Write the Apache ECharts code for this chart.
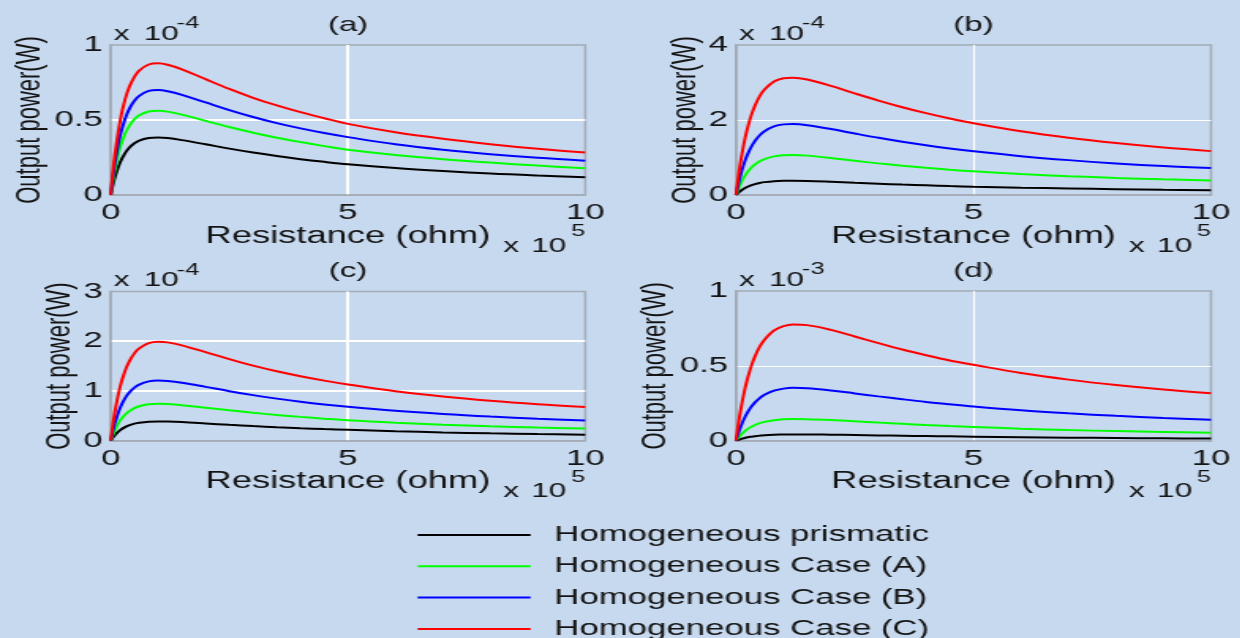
<!DOCTYPE html>
<html><head><meta charset="utf-8">
<script src="https://cdn.jsdelivr.net/npm/echarts@6/dist/echarts.min.js"></script>
<style>
html,body{margin:0;padding:0;background:#c7d9ef;overflow:hidden;width:1240px;height:638px}
#wrap{width:1240px;height:638px;overflow:hidden;position:relative}
#chart{position:absolute;left:0;top:0;height:638px;transform-origin:0 0}
</style></head><body><div id="wrap"><div id="chart"></div></div>
<script>
// Resistance (x 10^5 ohm)
const X_VALUES = [0,0.05,0.1,0.2,0.3,0.4,0.5,0.6,0.8,1,1.2,1.5,2,2.5,3,3.5,4,4.5,5,6,7,8,9,10];
const SERIES_NAMES = ['Homogeneous prismatic','Homogeneous Case (A)','Homogeneous Case (B)','Homogeneous Case (C)'];
const PANEL_TITLES = ['(a)','(b)','(c)','(d)'];
const Y_EXPONENTS = ['-4','-4','-4','-3'];
const X_EXPONENT = '5';
const Y_MAX = [1, 4, 3, 1];
const Y_INTERVAL = [0.5, 2, 1, 0.5];

// (a) x 10^-4 W
const a_prismatic = [0,.072,.130,.218,.277,.318,.345,.363,.380,.384,.380,.366,.338,.309,.283,.260,.239,.221,.205,.180,.160,.143,.130,.119];
const a_caseA = [0,.105,.190,.319,.406,.465,.505,.531,.557,.562,.556,.536,.494,.453,.415,.382,.353,.326,.302,.267,.239,.216,.196,.179];
const a_caseB = [0,.130,.237,.397,.505,.579,.628,.661,.694,.700,.692,.668,.617,.566,.520,.479,.444,.413,.386,.338,.301,.272,.248,.228];
const a_caseC = [0,.164,.298,.498,.634,.726,.788,.829,.870,.878,.868,.838,.772,.707,.648,.597,.552,.512,.474,.418,.375,.339,.308,.283];
// (b) x 10^-4 W
const b_prismatic = [0,.061,.112,.192,.249,.291,.322,.343,.369,.380,.382,.376,.352,.325,.300,.277,.257,.238,.222,.195,.173,.155,.140,.126];
const b_caseA = [0,.169,.312,.535,.697,.814,.898,.959,1.031,1.061,1.067,1.050,.985,.912,.843,.780,.724,.675,.632,.560,.502,.455,.418,.386];
const b_caseB = [0,.300,.553,.950,1.236,1.444,1.594,1.701,1.829,1.883,1.892,1.862,1.759,1.640,1.525,1.420,1.325,1.240,1.165,1.035,.930,.843,.772,.720];
const b_caseC = [0,.496,.915,1.571,2.044,2.387,2.635,2.813,3.024,3.113,3.129,3.079,2.909,2.710,2.518,2.341,2.182,2.040,1.914,1.700,1.527,1.385,1.266,1.170];
// (c) x 10^-4 W
const c_prismatic = [0,.069,.126,.213,.273,.314,.343,.362,.382,.388,.385,.374,.347,.319,.294,.271,.251,.234,.219,.190,.167,.148,.133,.120];
const c_caseA = [0,.132,.241,.407,.521,.600,.655,.692,.731,.742,.737,.715,.664,.611,.562,.518,.479,.443,.410,.362,.323,.290,.265,.243];
const c_caseB = [0,.216,.393,.663,.850,.979,1.068,1.129,1.192,1.210,1.202,1.166,1.083,.996,.916,.846,.784,.729,.681,.601,.537,.485,.442,.407];
const c_caseC = [0,.355,.647,1.091,1.398,1.610,1.757,1.856,1.961,1.990,1.977,1.918,1.780,1.640,1.510,1.396,1.296,1.208,1.130,.995,.890,.805,.735,.676];
// (d) x 10^-3 W
const d_prismatic = [0,.006,.011,.020,.026,.030,.034,.037,.040,.041,.042,.042,.040,.038,.035,.033,.031,.029,.027,.023,.020,.018,.016,.014];
const d_caseA = [0,.021,.039,.068,.089,.105,.117,.126,.137,.143,.145,.144,.138,.130,.121,.113,.105,.098,.092,.080,.071,.064,.058,.053];
const d_caseB = [0,.051,.095,.165,.217,.256,.285,.307,.334,.348,.353,.351,.336,.316,.296,.277,.259,.243,.228,.203,.183,.166,.152,.140];
const d_caseC = [0,.112,.209,.363,.478,.564,.628,.675,.736,.765,.776,.772,.740,.696,.652,.609,.571,.536,.507,.452,.408,.372,.342,.317];

const PANEL_DATA = [
  [a_prismatic, a_caseA, a_caseB, a_caseC],
  [b_prismatic, b_caseA, b_caseB, b_caseC],
  [c_prismatic, c_caseA, c_caseB, c_caseC],
  [d_prismatic, d_caseA, d_caseB, d_caseC]
];

// ---- layout / style ----
const S = 1.58;                 // horizontal stretch of the original figure
const W = 1240 / S;
const COLORS = ['#000000', '#00ff00', '#0000ff', '#ff0000'];
const FONT = '"Liberation Sans", Arial, sans-serif';
const TXT = '#141414';
const GREY = '#a3abb5';
// panel boxes in screen px: left, right, top, bottom
const BOX = [
  {L: 110.7, R: 585.2, T: 45, B: 195, nameGap: 40, gw: 2},
  {L: 736, R: 1211, T: 45, B: 195, nameGap: 20, gw: 1.2},
  {L: 110.7, R: 585.2, T: 291.5, B: 440.7, nameGap: 20, gw: 2},
  {L: 736, R: 1211, T: 291, B: 440.7, nameGap: 40, gw: 1.2}
];

const chartDom = document.getElementById('chart');
chartDom.style.width = W + 'px';
chartDom.style.transform = 'scaleX(' + S + ')';
const chart = echarts.init(chartDom, null, {renderer: 'canvas'});

const grids = [], xAxes = [], yAxes = [], series = [], graphics = [];
function txt(x, y, text, size, align, valign) {
  return {type: 'text', x: x, y: y, silent: true,
    style: {text: text, fill: TXT, font: size + 'px ' + FONT, fontSize: size, fontFamily: FONT,
      align: align || 'left', verticalAlign: valign || 'middle', textAlign: align || 'left', textVerticalAlign: valign || 'middle'}};
}
BOX.forEach((b, i) => {
  grids.push({left: b.L / S, top: b.T, width: (b.R - b.L) / S, height: b.B - b.T,
    show: true, backgroundColor: 'transparent', borderColor: GREY, borderWidth: 1.5,
    containLabel: false, outerBoundsMode: 'none'});
  xAxes.push({gridIndex: i, type: 'value', min: 0, max: 10, interval: 5,
    name: 'Resistance (ohm)', nameLocation: 'middle', nameGap: 29,
    nameTextStyle: {fontSize: 23, color: TXT, fontFamily: FONT},
    axisLine: {show: true, lineStyle: {color: GREY, width: 1.5}},
    axisTick: {show: false},
    axisLabel: {fontSize: 22, margin: 7, color: TXT, fontFamily: FONT},
    splitLine: {show: true, showMinLine: false, showMaxLine: false, lineStyle: {color: '#ffffff', width: b.gw}}});
  yAxes.push({gridIndex: i, type: 'value', min: 0, max: Y_MAX[i], interval: Y_INTERVAL[i],
    name: 'Output power(W)', nameLocation: 'middle', nameGap: b.nameGap,
    nameTextStyle: {fontSize: 22, color: TXT, fontFamily: FONT},
    axisLine: {show: true, lineStyle: {color: GREY, width: 1.5}},
    axisTick: {show: false},
    axisLabel: {fontSize: 22, margin: 5, color: TXT, fontFamily: FONT},
    splitLine: {show: true, showMinLine: false, showMaxLine: false, lineStyle: {color: '#ffffff', width: b.gw}}});
  PANEL_DATA[i].forEach((arr, k) => {
    series.push({type: 'line', name: SERIES_NAMES[k], xAxisIndex: i, yAxisIndex: i,
      data: X_VALUES.map((x, j) => [x, arr[j]]),
      symbol: 'none', showSymbol: false, smooth: 0.35, z: 3 + k,
      lineStyle: {color: COLORS[k], width: 2}, itemStyle: {color: COLORS[k]},
      emphasis: {disabled: true}, animation: false});
  });
  // title
  graphics.push(txt((b.L + b.R) / 2 / S, b.T - 20, PANEL_TITLES[i], 21, 'center'));
  // y multiplier
  graphics.push(txt((b.L + 3) / S, b.T - 11, 'x', 20));
  graphics.push(txt((b.L + 33) / S, b.T - 11, '10', 20));
  graphics.push(txt((b.L + 66) / S, b.T - 21, Y_EXPONENTS[i], 16));
  // x multiplier
  graphics.push(txt((b.R - 82) / S, b.B + 51, 'x', 20));
  graphics.push(txt((b.R - 54) / S, b.B + 51, '10', 20));
  graphics.push(txt((b.R - 14) / S, b.B + 37, X_EXPONENT, 16));
});

chart.setOption({
  backgroundColor: '#c7d9ef',
  animation: false,
  grid: grids, xAxis: xAxes, yAxis: yAxes, series: series,
  graphic: graphics,
  legend: {
    data: SERIES_NAMES, orient: 'vertical', left: 416 / S, top: 523, height: 140, width: 400, padding: 0,
    itemWidth: (529 - 416) / S, itemHeight: 14, itemGap: 7.3,
    selectedMode: false,
    itemStyle: {opacity: 0, color: 'rgba(0,0,0,0)', borderWidth: 0},
    textStyle: {fontSize: 22, color: TXT, fontFamily: FONT, lineHeight: 24, padding: [0, 0, 0, 10]},
    lineStyle: {width: 2}
  }
});
</script></body></html>
